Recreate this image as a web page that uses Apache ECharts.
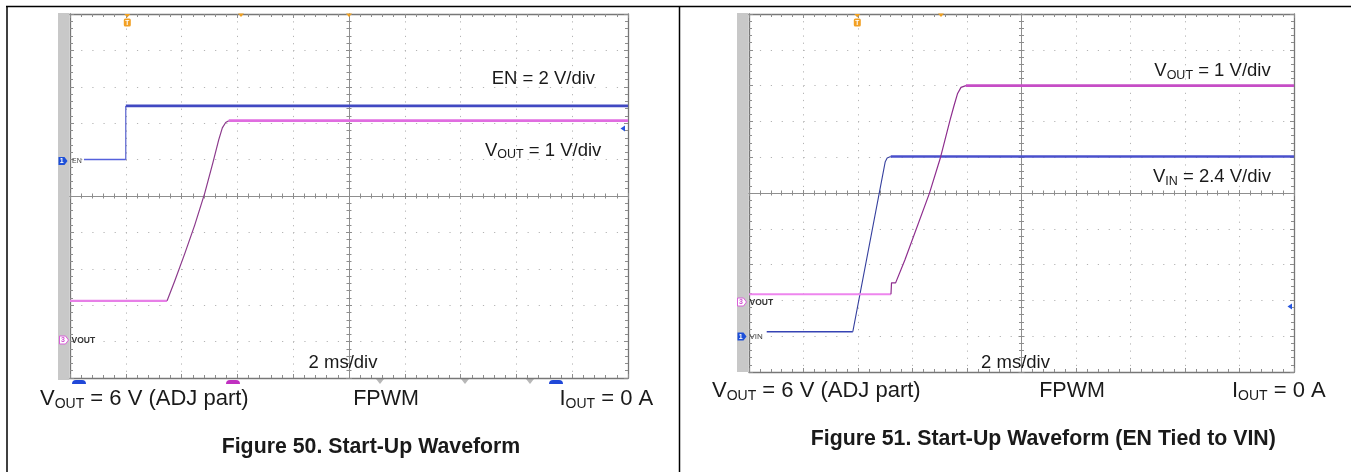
<!DOCTYPE html>
<html><head><meta charset="utf-8">
<script src="https://cdn.jsdelivr.net/npm/echarts@6/dist/echarts.min.js"></script>
<style>html,body{margin:0;padding:0;background:#fff;}#c{width:1351px;height:472px;}</style>
</head><body><div id="c"></div>
<script>
// ---------- DATA (time in ms relative to screen centre, values in volts) ----------
// Figure 50: Start-Up Waveform
const fig50_en_t   = [-9.5, -8.0, -8.0, 10];
const fig50_en_v   = [0.0, 0.0, 2.95, 2.95];
const fig50_vout_t = [-10, -6.52, -6.25, -5.89, -5.53, -5.17, -4.88, -4.67, -4.54, -4.42, -4.31, 10];
const fig50_vout_v = [1.12, 1.12, 1.66, 2.41, 3.20, 4.08, 4.91, 5.54, 5.87, 6.02, 6.07, 6.07];
// Figure 51: Start-Up Waveform (EN tied to VIN)
const fig51_vin_t  = [-9.35, -6.19, -5.0, -4.93, -4.8, 10];
const fig51_vin_v  = [0.3, 0.3, 11.7, 11.95, 12.05, 12.05];
const fig51_vout_t = [-10, -4.79, -4.77, -4.62, -4.28, -3.38, -2.97, -2.62, -2.48, -2.35, -2.22, -2.04, 10];
const fig51_vout_v = [0.17, 0.17, 0.49, 0.49, 1.13, 2.99, 4.0, 5.04, 5.43, 5.77, 5.95, 6.0, 6.0];
// scope settings
const timeDiv = 2;           // ms/div
const fig50_enDiv = 2, fig50_voutDiv = 1;
const fig51_voutDiv = 1, fig51_vinDiv = 2.4;
// texts
const fig50_caption = 'Figure 50. Start-Up Waveform';
const fig51_caption = 'Figure 51. Start-Up Waveform (EN Tied to VIN)';
const timeLabel = '2 ms/div';

// ---------- LAYOUT ----------
const FONT = '"Liberation Sans", Arial, Helvetica, sans-serif';
const G = [
  {left: 70, top: 14, width: 558, height: 364},
  {left: 749, top: 14, width: 545, height: 358}
];
const borderC = '#777777', tickC = '#8d8d8d', dotC = '#b4b4b4', centerC = '#8f8f8f';

const xAxes = [], yAxes = [];
function addGrid(gi, vAxes) {
  const g = G[gi];
  const vy = g.height / 50, hx = g.width / 50;
  const xb = xAxes.length, yb = yAxes.length;
  const X = {type: 'value', gridIndex: gi, min: -5 * timeDiv, max: 5 * timeDiv, interval: timeDiv,
             axisLabel: {show: false}, splitLine: {show: false}, silent: true};
  const Y = {type: 'value', gridIndex: gi, min: -5, max: 5, interval: 1,
             axisLabel: {show: false}, splitLine: {show: false}, silent: true};
  const tick = (inside, len) => ({show: true, inside, length: len, lineStyle: {color: tickC, width: 1}});
  const minor = (len) => ({show: true, splitNumber: 5, length: len, lineStyle: {color: tickC, width: 1}});
  xAxes.push(
    Object.assign({}, X, {position: 'bottom', axisLine: {show: true, onZero: false, lineStyle: {color: borderC, width: 1.3}},
      axisTick: tick(true, 4), minorTick: minor(3),
      splitLine: {show: true, lineStyle: {type: [1.2, vy - 1.2], color: dotC, width: 1}}}),
    Object.assign({}, X, {position: 'top', axisLine: {show: true, onZero: false, lineStyle: {color: borderC, width: 1.3}},
      axisTick: tick(true, 4), minorTick: minor(3)}),
    Object.assign({}, X, {position: 'bottom', axisLine: {show: true, onZero: true, onZeroAxisIndex: yb, lineStyle: {color: centerC, width: 1}},
      axisTick: tick(true, 3), minorTick: minor(2.5)}),
    Object.assign({}, X, {position: 'bottom', axisLine: {show: true, onZero: true, onZeroAxisIndex: yb, lineStyle: {color: centerC, width: 1}},
      axisTick: tick(false, 3), minorTick: minor(2.5)})
  );
  yAxes.push(
    Object.assign({}, Y, {position: 'left', axisLine: {show: true, onZero: false, lineStyle: {color: borderC, width: 1.3}},
      axisTick: tick(true, 4), minorTick: minor(3),
      splitLine: {show: true, lineStyle: {type: [1.2, hx - 1.2], color: dotC, width: 1}}}),
    Object.assign({}, Y, {position: 'right', axisLine: {show: true, onZero: false, lineStyle: {color: borderC, width: 1.3}},
      axisTick: tick(true, 4), minorTick: minor(3)}),
    Object.assign({}, Y, {position: 'left', axisLine: {show: true, onZero: true, onZeroAxisIndex: xb, lineStyle: {color: centerC, width: 1}},
      axisTick: tick(true, 3), minorTick: minor(2.5)}),
    Object.assign({}, Y, {position: 'left', axisLine: {show: true, onZero: true, onZeroAxisIndex: xb, lineStyle: {color: centerC, width: 1}},
      axisTick: tick(false, 3), minorTick: minor(2.5)})
  );
  const vIdx = [];
  vAxes.forEach(v => {
    vIdx.push(yAxes.length);
    yAxes.push({type: 'value', gridIndex: gi, show: false, min: -v.below * v.div, max: (10 - v.below) * v.div});
  });
  return {x: xb, v: vIdx};
}
// ground marker positions: divisions above the bottom edge
const g50 = addGrid(0, [{div: fig50_enDiv, below: 6}, {div: fig50_voutDiv, below: 1}]);
const g51 = addGrid(1, [{div: fig51_voutDiv, below: 2}, {div: fig51_vinDiv, below: 1}]);

const series = [];
function trace(t, v, xi, yi, segs) {
  const pts = t.map((x, i) => [x, v[i]]);
  segs.forEach(s => {
    series.push({type: 'line', xAxisIndex: xi, yAxisIndex: yi, data: pts.slice(s[0], s[1] + 1),
      showSymbol: false, symbol: 'none', animation: false, silent: true, z: s[4] || 5,
      lineStyle: {color: s[2], width: s[3], cap: 'butt', join: 'round'}});
  });
}
trace(fig50_en_t, fig50_en_v, g50.x, g50.v[0],
  [[0, 1, '#5561dc', 1.5], [1, 2, '#4650c8', 1.1], [2, 3, '#4149c2', 2.6]]);
trace(fig50_vout_t, fig50_vout_v, g50.x, g50.v[1],
  [[0, 1, '#e77fe7', 2.2], [1, 10, '#8c3a8c', 1.2, 6], [10, 11, '#e06de0', 2.6]]);
trace(fig51_vin_t, fig51_vin_v, g51.x, g51.v[1],
  [[0, 1, '#3643b4', 1.6], [1, 4, '#36409e', 1.1], [4, 5, '#4a50cc', 2.6]]);
trace(fig51_vout_t, fig51_vout_v, g51.x, g51.v[0],
  [[0, 1, '#ee86ee', 2.0], [1, 11, '#8e2e8e', 1.2, 6], [11, 12, '#c64dc6', 2.6]]);

// ---------- GRAPHIC DECORATION ----------
const meas = document.createElement('canvas').getContext('2d');
function tw(s, size, weight) { meas.font = (weight || 'normal') + ' ' + size + 'px ' + FONT; return meas.measureText(s).width; }
function txt(x, y, s, size, o) {
  o = o || {};
  return {type: 'text', x, y, silent: true, z: 100,
    style: {text: s, x: 0, y: 0, fontSize: size, fontFamily: FONT, fontWeight: o.weight || 'normal',
      fill: o.color || '#1a1a1a', align: o.align || 'left', verticalAlign: 'middle',
      textAlign: o.align || 'left', textVerticalAlign: 'middle'}};
}
function subTxt(x, y, main, sub, rest, size, subSize, dy) {
  const w1 = tw(main, size), w2 = tw(sub, subSize);
  return [txt(x, y, main, size), txt(x + w1, y + dy, sub, subSize), txt(x + w1 + w2, y, rest, size)];
}
function chan(x, y, num, kind) {
  const els = [];
  if (kind === 'blue') {
    els.push({type: 'polygon', silent: true, z: 90, shape: {points: [[x, y - 4], [x + 6, y - 4], [x + 9, y], [x + 6, y + 4], [x, y + 4]]}, style: {fill: '#1d4fd8'}});
    els.push(txt(x + 3.2, y + 0.5, num, 7, {color: '#fff', weight: 'bold', align: 'center'}));
  } else {
    els.push({type: 'polygon', silent: true, z: 90, shape: {points: [[x, y - 4], [x + 6, y - 4], [x + 9, y], [x + 6, y + 4], [x, y + 4]]}, style: {fill: '#fff', stroke: '#d860d8', lineWidth: 1}});
    els.push(txt(x + 3.5, y + 0.5, num, 7, {color: '#d050d0', weight: 'bold', align: 'center'}));
  }
  return els;
}
function trig(x) {
  return [
    {type: 'polygon', silent: true, z: 95, shape: {points: [[x - 3, 14], [x + 3, 14], [x, 17.5]]}, style: {fill: '#f0a020'}},
    {type: 'rect', silent: true, z: 95, shape: {x: x - 3.5, y: 18.5, width: 7, height: 8, r: 1.5}, style: {fill: '#f2a024'}},
    txt(x, 22.8, 'T', 6.5, {color: '#fff', weight: 'bold', align: 'center'})
  ];
}
function orangeTop(x) {
  return {type: 'polygon', silent: true, z: 95, shape: {points: [[x - 3, 13.5], [x + 3, 13.5], [x, 17]]}, style: {fill: '#f0a020'}};
}
function level(x, y) {
  return {type: 'polygon', silent: true, z: 95, shape: {points: [[x - 3.5, y], [x + 1, y - 3], [x + 1, y + 3]]}, style: {fill: '#2656e0'}};
}

const gfx = [
  {type: 'line', silent: true, shape: {x1: 6, y1: 6.5, x2: 1351, y2: 6.5}, style: {stroke: '#000', lineWidth: 1.5}},
  {type: 'line', silent: true, shape: {x1: 7, y1: 6, x2: 7, y2: 472}, style: {stroke: '#000', lineWidth: 1.5}},
  {type: 'line', silent: true, shape: {x1: 679.5, y1: 6, x2: 679.5, y2: 472}, style: {stroke: '#000', lineWidth: 1.5}},
  {type: 'rect', silent: true, shape: {x: 58, y: 13, width: 11.5, height: 367}, style: {fill: '#c8c8c8'}},
  {type: 'rect', silent: true, shape: {x: 737, y: 13, width: 11.5, height: 359}, style: {fill: '#c8c8c8'}},
  // cut-off readout strip under Figure 50 screen
  {type: 'rect', silent: true, shape: {x: 72, y: 380, width: 14, height: 4, r: [4, 4, 0, 0]}, style: {fill: '#2048d8'}},
  {type: 'rect', silent: true, shape: {x: 226, y: 380, width: 14, height: 4, r: [4, 4, 0, 0]}, style: {fill: '#c030c0'}},
  {type: 'rect', silent: true, shape: {x: 549, y: 380, width: 14, height: 4, r: [4, 4, 0, 0]}, style: {fill: '#2048d8'}},
  {type: 'polygon', silent: true, shape: {points: [[376, 379], [384, 379], [380, 384]]}, style: {fill: '#b8b8b8'}},
  {type: 'polygon', silent: true, shape: {points: [[461, 379], [469, 379], [465, 384]]}, style: {fill: '#b8b8b8'}},
  {type: 'polygon', silent: true, shape: {points: [[526, 379], [534, 379], [530, 384]]}, style: {fill: '#b8b8b8'}},
  level(624, 128.5), level(1291, 306.5),
  orangeTop(241), orangeTop(349), orangeTop(941)
].concat(
  trig(127.3), trig(857.3),
  chan(58.5, 161, '1', 'blue'), chan(59.5, 340, '3', 'pink'),
  chan(737.5, 336.5, '1', 'blue'), chan(737.5, 302, '3', 'pink'),
  [txt(72, 161, 'EN', 7, {color: '#444'}),
   txt(71.5, 340.5, 'VOUT', 8.5, {color: '#333', weight: 'bold'}),
   txt(749.5, 302.5, 'VOUT', 8.5, {color: '#333', weight: 'bold'}),
   txt(749.5, 336.5, 'VIN', 8, {color: '#444'}),
   txt(491.7, 78.5, 'EN = 2 V/div', 18.5)],
  subTxt(485, 150.5, 'V', 'OUT', ' = 1 V/div', 18.5, 12.5, 4.5),
  subTxt(1154.3, 70.7, 'V', 'OUT', ' = 1 V/div', 18.5, 12.5, 4.5),
  subTxt(1153, 176.7, 'V', 'IN', ' = 2.4 V/div', 18.5, 12.5, 4.5),
  [txt(343, 363.3, timeLabel, 18.5, {align: 'center'}),
   txt(1015.5, 363.3, timeLabel, 18.5, {align: 'center'})],
  // bottom condition lines
  subTxt(40, 399, 'V', 'OUT', ' = 6 V (ADJ part)', 22, 14, 5.5),
  [txt(386, 399, 'FPWM', 21.5, {align: 'center'})],
  subTxt(559.5, 399, 'I', 'OUT', ' = 0 A', 22, 14, 5.5),
  subTxt(712, 391, 'V', 'OUT', ' = 6 V (ADJ part)', 22, 14, 5.5),
  [txt(1072, 391, 'FPWM', 21.5, {align: 'center'})],
  subTxt(1232, 391, 'I', 'OUT', ' = 0 A', 22, 14, 5.5),
  [txt(371, 447, fig50_caption, 21.3, {weight: 'bold', align: 'center'}),
   txt(1043.3, 439, fig51_caption, 21.3, {weight: 'bold', align: 'center'})]
);

const chart = echarts.init(document.getElementById('c'), null, {renderer: 'canvas'});
chart.setOption({
  animation: false,
  backgroundColor: '#ffffff',
  grid: G.map(g => Object.assign({containLabel: false, show: false}, g)),
  xAxis: xAxes,
  yAxis: yAxes,
  series: series,
  graphic: {elements: gfx}
});
</script>
</body></html>
